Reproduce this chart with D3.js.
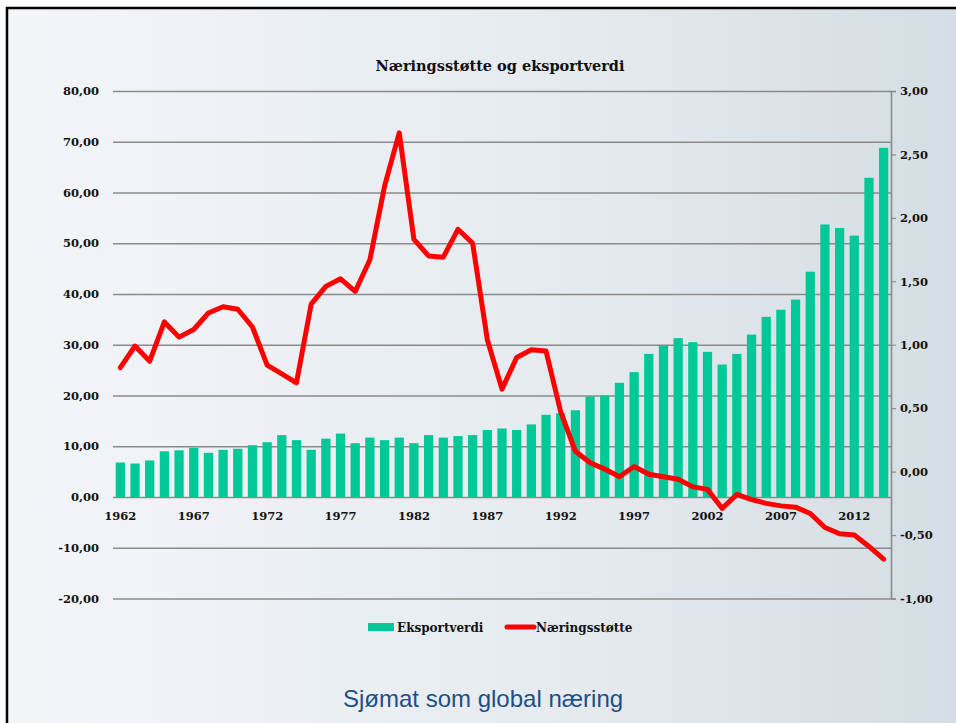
<!DOCTYPE html>
<html>
<head>
<meta charset="utf-8">
<script src="https://cdn.jsdelivr.net/npm/d3@7"></script>
<style>
  html, body { margin: 0; padding: 0; background: #ffffff; }
  svg { display: block; }
  .lbl { font-family: "DejaVu Serif", serif; font-weight: bold; fill: #111; }
</style>
</head>
<body>
<svg id="chart"></svg>
<script>
// Data
const years = [1962, 1963, 1964, 1965, 1966, 1967, 1968, 1969, 1970, 1971,
               1972, 1973, 1974, 1975, 1976, 1977, 1978, 1979, 1980, 1981,
               1982, 1983, 1984, 1985, 1986, 1987, 1988, 1989, 1990, 1991,
               1992, 1993, 1994, 1995, 1996, 1997, 1998, 1999, 2000, 2001,
               2002, 2003, 2004, 2005, 2006, 2007, 2008, 2009, 2010, 2011,
               2012, 2013, 2014];
const eksportverdi = [6.8, 6.6, 7.2, 9.0, 9.2, 9.7, 8.7, 9.3, 9.5, 10.2,
                      10.8, 12.2, 11.2, 9.3, 11.5, 12.5, 10.6, 11.7, 11.2, 11.7,
                      10.6, 12.2, 11.7, 12.0, 12.2, 13.2, 13.5, 13.2, 14.3, 16.2,
                      16.5, 17.1, 19.8, 20.0, 22.5, 24.6, 28.2, 29.9, 31.3, 30.5,
                      28.6, 26.1, 28.2, 32.0, 35.5, 36.9, 38.9, 44.4, 53.7, 53.0,
                      51.5, 62.9, 68.8];
const naeringsstotte = [0.82, 0.99, 0.87, 1.18, 1.06, 1.12, 1.25, 1.30, 1.28, 1.14,
                        0.84, 0.77, 0.70, 1.32, 1.46, 1.52, 1.42, 1.67, 2.25, 2.67,
                        1.83, 1.70, 1.69, 1.91, 1.80, 1.04, 0.65, 0.90, 0.96, 0.95,
                        0.47, 0.16, 0.07, 0.02, -0.04, 0.04, -0.02, -0.04, -0.06, -0.12,
                        -0.14, -0.29, -0.18, -0.22, -0.25, -0.27, -0.28, -0.33, -0.44, -0.49,
                        -0.50, -0.59, -0.69];
const leftTicks = [-20, -10, 0, 10, 20, 30, 40, 50, 60, 70, 80];
const rightTicks = [-1, -0.5, 0, 0.5, 1, 1.5, 2, 2.5, 3];
const yearLabels = [1962, 1967, 1972, 1977, 1982, 1987, 1992, 1997, 2002, 2007, 2012];

const width = 956, height = 723;
const plot = { left: 113, right: 891, top: 91, bottom: 598.5 };

const svg = d3.select('#chart').attr('width', width).attr('height', height);

// Slide background + frame
const defs = svg.append('defs');
const grad = defs.append('linearGradient').attr('id', 'bg').attr('x1', 0).attr('x2', 1).attr('y1', 0).attr('y2', 0);
grad.append('stop').attr('offset', '0%').attr('stop-color', '#f3f6f9');
grad.append('stop').attr('offset', '60%').attr('stop-color', '#e5eaee');
grad.append('stop').attr('offset', '100%').attr('stop-color', '#d3dde3');

svg.append('rect').attr('x', 7).attr('y', 8).attr('width', 960).attr('height', 730)
    .attr('fill', 'url(#bg)').attr('stroke', '#000').attr('stroke-width', 2.5);

// Scales
const x = d3.scaleBand()
    .domain(years)
    .range([plot.left, plot.right])
    .paddingInner(0.37)
    .paddingOuter(0.185);

const yL = d3.scaleLinear().domain([-20, 80]).range([plot.bottom, plot.top]);
const yR = d3.scaleLinear().domain([-1, 3]).range([plot.bottom, plot.top]);

// Norwegian style: decimal comma, plain hyphen for minus
const comma = d => d3.format('.2f')(d).replace('.', ',').replace('\u2212', '-');

// Title
svg.append('text')
    .attr('class', 'lbl')
    .attr('x', 500).attr('y', 71)
    .attr('text-anchor', 'middle')
    .style('font-size', '14.5px')
    .text('Næringsstøtte og eksportverdi');

// Left axis (gridlines + labels)
const gL = svg.append('g')
    .attr('transform', `translate(${plot.left},0)`)
    .call(d3.axisLeft(yL).tickValues(leftTicks).tickSize(-(plot.right - plot.left)).tickPadding(14).tickFormat(comma));
gL.select('.domain').remove();
gL.selectAll('.tick line').attr('stroke', '#8a8a8a').attr('stroke-width', 1.6);
gL.selectAll('.tick text').attr('class', 'lbl').style('font-size', '11.5px');

// Right axis
const gR = svg.append('g')
    .attr('transform', `translate(${plot.right},0)`)
    .call(d3.axisRight(yR).tickValues(rightTicks).tickSize(5).tickPadding(4).tickFormat(comma));
gR.select('.domain').attr('stroke', '#8a8a8a').attr('stroke-width', 1.6);
gR.selectAll('.tick line').attr('stroke', '#8a8a8a').attr('stroke-width', 1.2);
gR.selectAll('.tick text').attr('class', 'lbl').style('font-size', '11.5px');

// Bars
svg.append('g').selectAll('rect')
    .data(years)
    .join('rect')
    .attr('x', d => x(d))
    .attr('y', (d, i) => yL(eksportverdi[i]))
    .attr('width', x.bandwidth())
    .attr('height', (d, i) => yL(0) - yL(eksportverdi[i]))
    .attr('fill', '#00c896');

// Year labels under the zero line
const gX = svg.append('g')
    .attr('transform', `translate(0,${yL(0)})`)
    .call(d3.axisBottom(x).tickValues(yearLabels).tickSize(0).tickPadding(15));
gX.select('.domain').remove();
gX.selectAll('.tick text').attr('class', 'lbl').style('font-size', '11.5px');

// Red line
const line = d3.line()
    .x((d, i) => x(years[i]) + x.bandwidth() / 2)
    .y(d => yR(d));

svg.append('path')
    .datum(naeringsstotte)
    .attr('d', line)
    .attr('fill', 'none')
    .attr('stroke', '#ff0000')
    .attr('stroke-width', 5)
    .attr('stroke-linejoin', 'round')
    .attr('stroke-linecap', 'round');

// Legend
const legend = svg.append('g').attr('transform', 'translate(368,627)');
legend.append('rect').attr('x', 0).attr('y', -4).attr('width', 26).attr('height', 8).attr('fill', '#00c896');
legend.append('text').attr('class', 'lbl').attr('x', 29).attr('y', 4.5).style('font-size', '12px').text('Eksportverdi');
legend.append('line').attr('x1', 139).attr('x2', 166).attr('y1', 0).attr('y2', 0)
    .attr('stroke', '#ff0000').attr('stroke-width', 5).attr('stroke-linecap', 'round');
legend.append('text').attr('class', 'lbl').attr('x', 168).attr('y', 4.5).style('font-size', '12px').text('Næringsstøtte');

// Slide footer
svg.append('text')
    .attr('x', 343).attr('y', 707)
    .style('font-family', '"Liberation Sans", Arial, sans-serif')
    .style('font-size', '24px')
    .style('fill', '#1e4f86')
    .text('Sjømat som global næring');
</script>
</body>
</html>
